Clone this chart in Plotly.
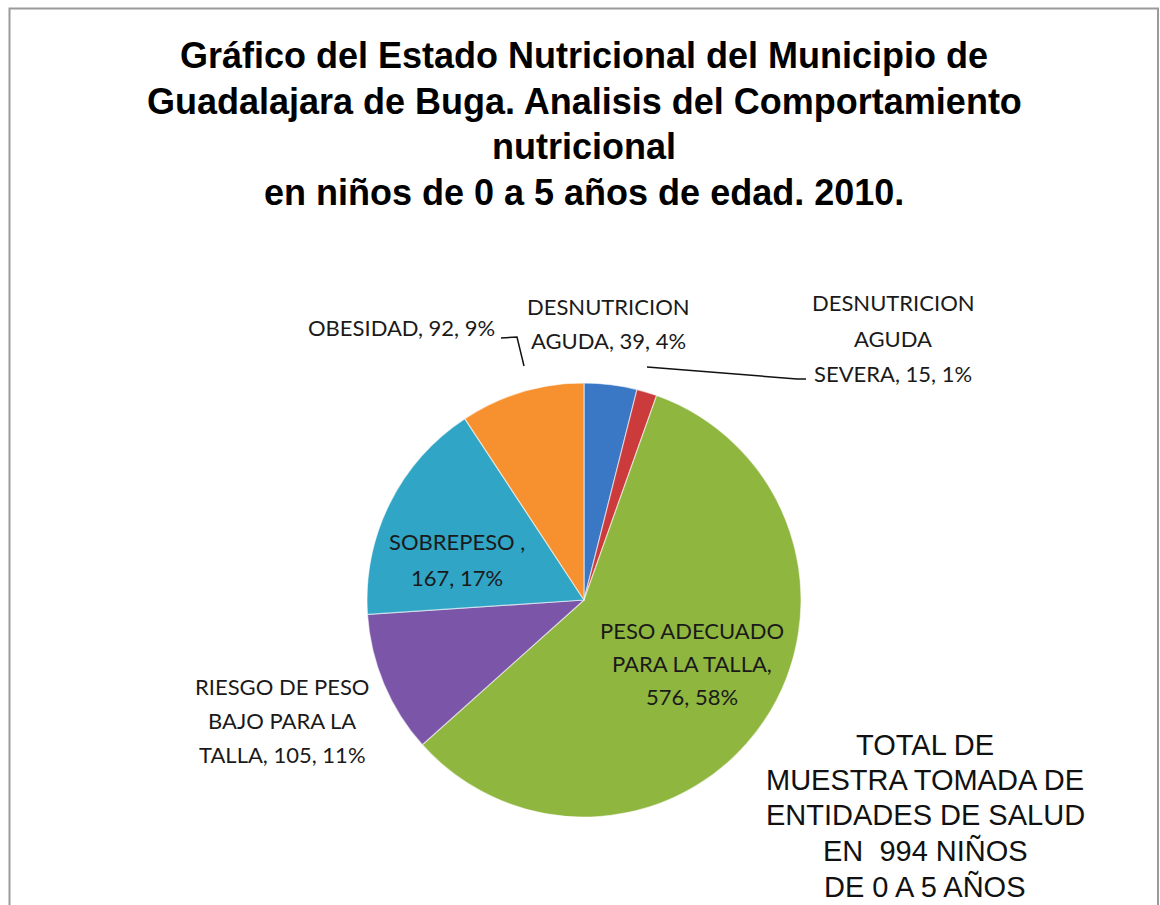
import plotly.graph_objects as go

W, H = 1160, 905

categories = ["DESNUTRICION AGUDA", "DESNUTRICION AGUDA SEVERA", "PESO ADECUADO PARA LA TALLA",
              "RIESGO DE PESO BAJO PARA LA TALLA", "SOBREPESO", "OBESIDAD"]
values = [39, 15, 576, 105, 167, 92]
pct_labels = ["4%", "1%", "58%", "11%", "17%", "9%"]
colors = ["#3A77C4", "#CC3B3C", "#8FB63F", "#7B55A7", "#30A5C6", "#F7912F"]

# label text as shown on chart (line breaks)
label_lines = [
    ["DESNUTRICION", "AGUDA, {v}, {p}"],
    ["DESNUTRICION", "AGUDA", "SEVERA, {v}, {p}"],
    ["PESO ADECUADO", "PARA LA TALLA,", "{v}, {p}"],
    ["RIESGO DE PESO", "BAJO PARA LA", "TALLA, {v}, {p}"],
    ["SOBREPESO ,", "{v}, {p}"],
    ["OBESIDAD, {v}, {p}"],
]

title_lines = ["Gráfico del Estado Nutricional del Municipio de",
               "Guadalajara de Buga. Analisis del Comportamiento",
               "nutricional",
               "en niños de 0 a 5 años de edad. 2010."]

total_lines = ["TOTAL DE", "MUESTRA TOMADA DE", "ENTIDADES DE SALUD", "EN  994 NIÑOS", "DE 0 A 5 AÑOS"]


def px(x):
    return x / W


def py(y):
    return 1 - y / H


cx, cy, r = 584, 600, 217

fig = go.Figure(go.Pie(
    labels=categories, values=values, sort=False, direction="clockwise", rotation=0,
    marker=dict(colors=colors, line=dict(color="rgba(255,255,255,0.55)", width=1.2)),
    textinfo="none", hoverinfo="label+value+percent", showlegend=False,
    domain=dict(x=[px(cx - r), px(cx + r)], y=[py(cy + r), py(cy - r)]),
))

annotations = []

# title
title_y = [56, 102, 147, 193]
for t, yy in zip(title_lines, title_y):
    annotations.append(dict(text="<b>" + t + "</b>", x=px(584), y=py(yy), xref="paper", yref="paper",
                            showarrow=False, xanchor="center", yanchor="middle",
                            font=dict(family="Liberation Sans, Arial", size=36, color="#000000")))

# data labels: (center x, first line y, line spacing, anchor)
label_pos = [
    (608, 307, 34, "center"),
    (893, 302, 36, "center"),
    (692, 630, 33, "center"),
    (282, 686, 34, "center"),
    (457, 541, 36, "center"),
    (497, 327, 34, "right"),
]
for lines, v, p, (lx, ly, sp, anc) in zip(label_lines, values, pct_labels, label_pos):
    for i, ln in enumerate(lines):
        annotations.append(dict(text=ln.format(v=v, p=p), x=px(lx), y=py(ly + i * sp),
                                xref="paper", yref="paper", showarrow=False,
                                xanchor=anc, yanchor="middle",
                                font=dict(family="Lato, Open Sans", size=22, color="#1a1a1a")))

# total text
total_y = [745, 780, 815, 850, 886]
for t, yy in zip(total_lines, total_y):
    annotations.append(dict(text=t, x=px(925), y=py(yy), xref="paper", yref="paper",
                            showarrow=False, xanchor="center", yanchor="middle",
                            font=dict(family="Liberation Sans, Arial", size=29, color="#111111")))

shapes = []
# leader lines
leaders = [
    [(501, 338), (517, 337), (524, 366)],
    [(647, 367), (797, 379), (806, 379)],
]
for pts in leaders:
    path = "M " + " L ".join(f"{px(x)},{py(y)}" for x, y in pts)
    shapes.append(dict(type="path", path=path, xref="paper", yref="paper",
                       line=dict(color="#111111", width=1.5)))

# chart frame
shapes.append(dict(type="rect", xref="paper", yref="paper",
                   x0=px(9.5), x1=px(1158), y0=-0.05, y1=py(8.5),
                   line=dict(color="#9a9a9a", width=2), fillcolor="rgba(0,0,0,0)"))

fig.update_layout(
    width=W, height=H, margin=dict(l=0, r=0, t=0, b=0),
    paper_bgcolor="white", plot_bgcolor="white",
    annotations=annotations, shapes=shapes,
)

fig.write_html("out.html", config={"displayModeBar": False},
               post_script="document.body.style.margin='0';document.body.style.overflow='hidden';")
